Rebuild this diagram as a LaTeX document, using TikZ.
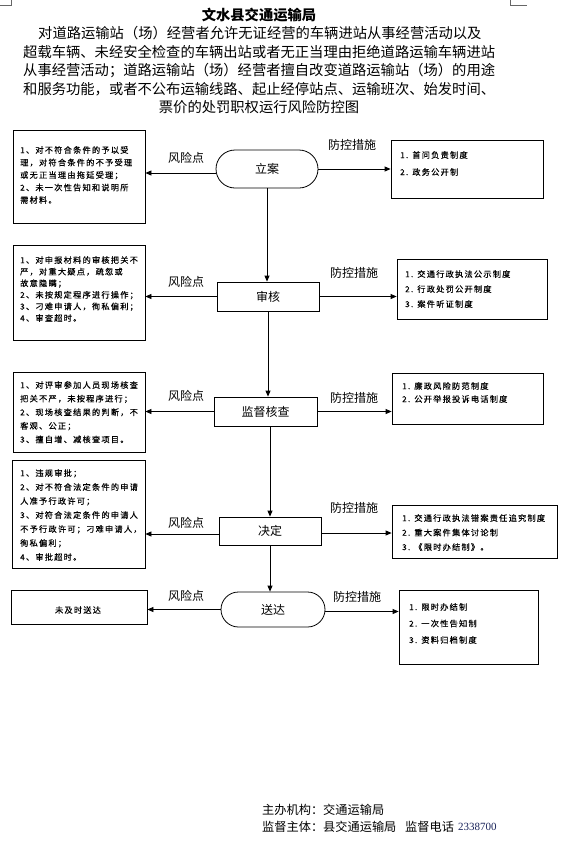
\documentclass[tikz,border=0pt]{standalone}
\usepackage{fontspec}
\setmainfont{Noto Sans CJK SC}
\newfontfamily\boxfont[LetterSpace=15,FakeBold=0.4]{Noto Sans CJK SC}
\newfontfamily\numfont{Liberation Serif}
\usetikzlibrary{arrows.meta}
\definecolor{numblue}{RGB}{25,35,90}
\begin{document}
\begin{tikzpicture}[x=1pt,y=-1pt,
  stage/.style={draw, line width=0.8pt, inner sep=0pt, font=\fontsize{12}{14}\selectfont},
  term/.style={stage, rounded corners=#1},
  panel/.style={draw, line width=0.8pt, inner sep=0pt},
  txt/.style={anchor=north west, align=left, inner sep=0pt, font=\boxfont\fontsize{8.2}{#1}\selectfont},
  lbl/.style={inner sep=0pt, font=\fontsize{12}{14}\selectfont},
  hd/.style={inner sep=0pt, font=\fontsize{14.3}{16}\selectfont},
  arr/.style={-{Triangle[length=6pt,width=5pt]}, line width=0.8pt}]
\useasboundingbox (0,0) rectangle (568,841);
\fill[white] (0,0) rectangle (568,841);
% corner marks
\draw[line width=0.5pt, black!60] (11,0) -- (11,5) -- (0,5);
\draw[line width=0.5pt, black!60] (510,0) -- (510,5) -- (527,5);
% heading
\node[hd, font=\bfseries\fontsize{14.3}{16}\selectfont] (title) at (259,15) {文水县交通运输局};
\node[hd, anchor=west] (h1) at (38,33) {对道路运输站（场）经营者允许无证经营的车辆进站从事经营活动以及};
\node[hd, anchor=west] (h2) at (23,52) {超载车辆、未经安全检查的车辆出站或者无正当理由拒绝道路运输车辆进站};
\node[hd, anchor=west] (h3) at (23,71) {从事经营活动；道路运输站（场）经营者擅自改变道路运输站（场）的用途};
\node[hd, anchor=west] (h4) at (23,89) {和服务功能，或者不公布运输线路、起止经停站点、运输班次、始发时间、};
\node[hd] (h5) at (259,107) {票价的处罚职权运行风险防控图};
% stages
\node[term=19pt, minimum width=102pt, minimum height=38pt] (lian) at (267,169) {立案};
\node[stage, minimum width=102pt, minimum height=29pt] (shenhe) at (268,296.5) {审核};
\node[stage, minimum width=103pt, minimum height=29pt] (jiandu) at (265.5,411.5) {监督核查};
\node[stage, minimum width=102pt, minimum height=28pt] (jueding) at (270,531) {决定};
\node[term=17.5pt, minimum width=104pt, minimum height=35pt] (songda) at (273,609.5) {送达};
% vertical flow
\draw[arr] (lian.south) -- (lian.south |- shenhe.north);
\draw[arr] (shenhe.south) -- (shenhe.south |- jiandu.north);
\draw[arr] (jueding.north |- jiandu.south) -- (jueding.north);
\draw[arr] (jueding.south) -- (jueding.south |- songda.north);
% risk boxes (left)
\node[panel, minimum width=132pt, minimum height=93pt] (r1) at (79,176.5) {};
\node[panel, minimum width=132pt, minimum height=95pt] (r2) at (79,292.5) {};
\node[panel, minimum width=132pt, minimum height=80pt] (r3) at (79,412) {};
\node[panel, minimum width=133pt, minimum height=108pt] (r4) at (78.5,514) {};
\node[panel, minimum width=136pt, minimum height=34pt] (r5) at (79,607) {};
\node[txt=12.5] (rt1) at (20,146) {1、对不符合条件的予以受\\理，对符合条件的不予受理\\或无正当理由拖延受理；\\2、未一次性告知和说明所\\需材料。};
\node[txt=11.6] (rt2) at (20,256) {1、对申报材料的审核把关不\\严，对重大疑点，疏忽或\\故意隐瞒；\\2、未按规定程序进行操作；\\3、刁难申请人，徇私偏利；\\4、审查超时。};
\node[txt=13.6] (rt3) at (20,381) {1、对评审参加人员现场核查\\把关不严，未按程序进行；\\2、现场核查结果的判断，不\\客观、公正；\\3、擅自增、减核查项目。};
\node[txt=14] (rt4) at (20,469) {1、违规审批；\\2、对不符合法定条件的申请\\人准予行政许可；\\3、对符合法定条件的申请人\\不予行政许可；刁难申请人，\\徇私偏利；\\4、审批超时。};
\node[inner sep=0pt, font=\boxfont\fontsize{8.2}{10}\selectfont] (rt5) at (78,610) {未及时送达};
% measure boxes (right)
\node[panel, minimum width=152pt, minimum height=58pt] (m1) at (467,169) {};
\node[panel, minimum width=150pt, minimum height=60pt] (m2) at (472,289) {};
\node[panel, minimum width=151pt, minimum height=51pt] (m3) at (467.5,398.5) {};
\node[panel, minimum width=165pt, minimum height=53pt] (m4) at (474.5,531.5) {};
\node[panel, minimum width=139pt, minimum height=74pt] (m5) at (468.5,627) {};
\node[txt=17] (mt1) at (400,151) {1. 首问负责制度\\2. 政务公开制};
\node[txt=15] (mt2) at (405,270) {1. 交通行政执法公示制度\\2. 行政处罚公开制度\\3. 案件听证制度};
\node[txt=13] (mt3) at (402,382) {1. 廉政风险防范制度\\2. 公开举报投诉电话制度};
\node[txt=14.5] (mt4) at (402,514) {1. 交通行政执法错案责任追究制度\\2. 重大案件集体讨论制\\3. 《限时办结制》。};
\node[txt=16.5] (mt5) at (409,603) {1. 限时办结制\\2. 一次性告知制\\3. 资料归档制度};
% horizontal connectors
\draw[arr] ([yshift=-4pt]lian.west) -- ([yshift=-4pt]lian.west -| r1.east);
\draw[arr] (lian.east) -- (lian.east -| m1.west);
\draw[arr] (shenhe.west) -- (shenhe.west -| r2.east);
\draw[arr] (shenhe.east) -- (shenhe.east -| m2.west);
\draw[arr] (jiandu.west) -- (jiandu.west -| r3.east);
\draw[arr] (jiandu.east) -- (jiandu.east -| m3.west);
\draw[arr] ([yshift=-3pt]jueding.west) -- ([yshift=-3pt]jueding.west -| r4.east);
\draw[arr] ([yshift=-2pt]jueding.east) -- ([yshift=-2pt]jueding.east -| m4.west);
\draw[arr] (songda.west) -- (songda.west -| r5.east);
\draw[arr] ([yshift=-2pt]songda.east) -- ([yshift=-2pt]songda.east -| m5.west);
% labels
\node[lbl] (k1) at (186,158) {风险点};
\node[lbl] (c1) at (352,145) {防控措施};
\node[lbl] (k2) at (186,282) {风险点};
\node[lbl] (c2) at (354,273) {防控措施};
\node[lbl] (k3) at (186,396) {风险点};
\node[lbl] (c3) at (354,398) {防控措施};
\node[lbl] (k4) at (186,523) {风险点};
\node[lbl] (c4) at (354,508) {防控措施};
\node[lbl] (k5) at (186,596) {风险点};
\node[lbl] (c5) at (357,597) {防控措施};
% footer
\node[inner sep=0pt, anchor=west, font=\fontsize{12.2}{14}\selectfont] (f1) at (262,810) {主办机构：交通运输局};
\node[inner sep=0pt, anchor=west, font=\fontsize{12.2}{14}\selectfont] (f2) at (262,827) {监督主体：县交通运输局};
\node[inner sep=0pt, anchor=west, font=\fontsize{12.2}{14}\selectfont] (f3) at (405,827) {监督电话};
\node[inner sep=0pt, anchor=west, text=numblue, font=\numfont\fontsize{11}{13}\selectfont] (f4) at (458,827) {2338700};
\end{tikzpicture}
\end{document}
